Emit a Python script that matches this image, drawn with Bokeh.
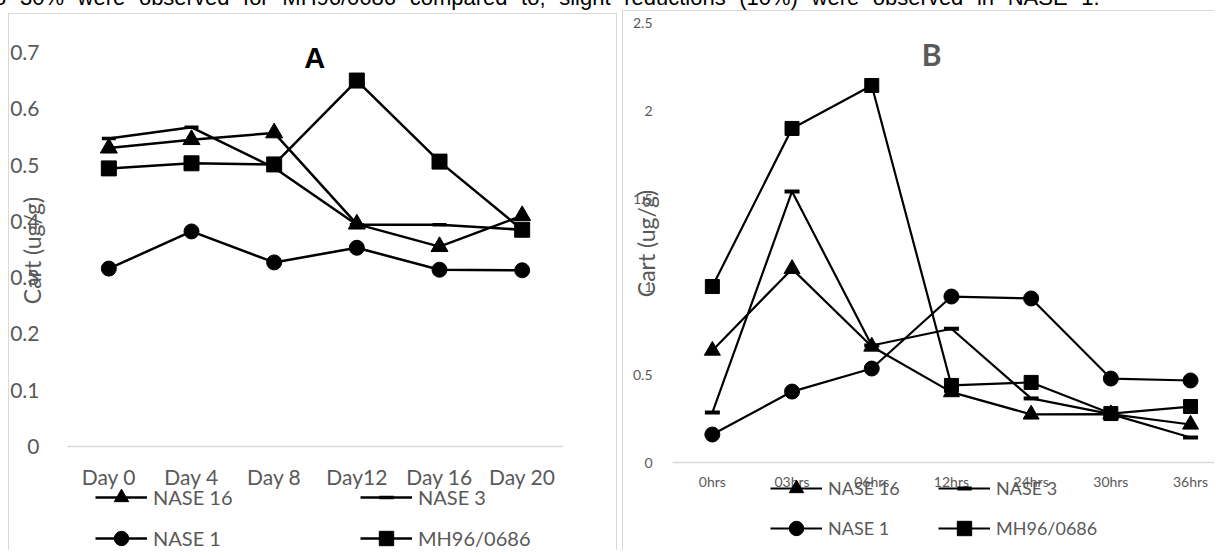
import math
from bokeh.plotting import figure
from bokeh.models import FixedTicker, Range1d, Legend, LegendItem, Label, Div
from bokeh.layouts import column, row
from bokeh.embed import file_html
from bokeh.resources import INLINE

# ---------------- data ----------------
intro_text = "to 30% were observed for MH96/0686 compared to; slight reductions (10%) were observed in NASE 1."

days = ["Day 0", "Day 4", "Day 8", "Day12", "Day 16", "Day 20"]
nase16_A = [0.530, 0.545, 0.557, 0.395, 0.355, 0.410]
nase3_A = [0.547, 0.567, 0.495, 0.394, 0.394, 0.385]
nase1_A = [0.316, 0.382, 0.327, 0.353, 0.314, 0.313]
mh_A = [0.494, 0.503, 0.501, 0.650, 0.506, 0.385]
yA_ticks = [0, 0.1, 0.2, 0.3, 0.4, 0.5, 0.6, 0.7]
yA_labels = ["0", "0.1", "0.2", "0.3", "0.4", "0.5", "0.6", "0.7"]

hours = ["0hrs", "03hrs", "06hrs", "12hrs", "24hrs", "30hrs", "36hrs"]
nase16_B = [0.636, 1.100, 0.659, 0.400, 0.273, 0.275, 0.216]
nase3_B = [0.284, 1.540, 0.665, 0.760, 0.364, 0.275, 0.142]
nase1_B = [0.159, 0.403, 0.534, 0.943, 0.932, 0.477, 0.466]
mh_B = [1.000, 1.898, 2.142, 0.438, 0.455, 0.278, 0.318]
yB_ticks = [0, 0.5, 1, 1.5, 2, 2.5]
yB_labels = ["0", "0.5", "1", "1.5", "2", "2.5"]

series_names = ["NASE 16", "NASE 3", "NASE 1", "MH96/0686"]
markers = ["triangle", "dash", "circle", "square"]
y_title = "Cart (ug/g)"

GRAY = "#595959"
FONT = "Lato"


def style_axes(p, cats, y_ticks, y_labels, tick_size, x_standoff, y_standoff, base_end):
    p.grid.visible = False
    x0 = -0.5
    # light baseline at y = 0 under the categories
    p.segment(x0=[x0], x1=[base_end], y0=[0], y1=[0], line_color="#d9d9d9", line_width=1.5)
    p.xaxis.ticker = FixedTicker(ticks=list(range(len(cats))))
    p.xaxis.major_label_overrides = {i: c for i, c in enumerate(cats)}
    p.xaxis.fixed_location = 0
    p.yaxis.fixed_location = x0
    p.yaxis.ticker = FixedTicker(ticks=y_ticks)
    p.yaxis.major_label_overrides = {t: l for t, l in zip(y_ticks, y_labels)}
    for ax in (p.xaxis, p.yaxis):
        ax.major_tick_line_color = None
        ax.minor_tick_line_color = None
        ax.axis_line_color = None
        ax.major_label_text_font = FONT
        ax.major_label_text_font_size = tick_size
        ax.major_label_text_color = GRAY
    p.xaxis.major_label_standoff = x_standoff
    p.yaxis.major_label_standoff = y_standoff


def draw_series(p, values_list, lw, sizes, dash_lw):
    out = []
    for name, vals, mk, sz in zip(series_names, values_list, markers, sizes):
        xs = list(range(len(vals)))
        l = p.line(xs, vals, line_color="black", line_width=lw)
        if mk == "dash":
            s = p.scatter(xs, vals, marker=mk, size=sz, line_color="black", line_width=dash_lw)
        else:
            s = p.scatter(xs, vals, marker=mk, size=sz, fill_color="black", line_color="black", line_width=1)
        out.append((name, l, s))
    return out


def add_legends(p, rs, loc1, loc2, spacing, font_size):
    groups = [[rs[0], rs[2]], [rs[1], rs[3]]]
    for grp, loc in zip(groups, (loc1, loc2)):
        leg = Legend(
            items=[LegendItem(label=n, renderers=[l, s]) for n, l, s in grp],
            location=loc, orientation="vertical",
            glyph_width=52, glyph_height=36, label_height=36,
            spacing=spacing, label_standoff=6, padding=0, margin=0,
            border_line_color=None, background_fill_alpha=0,
            label_text_font=FONT, label_text_font_size=font_size,
            label_text_color=GRAY,
        )
        p.add_layout(leg)


# ---------------- panel A ----------------
pxA = 496 / len(days)  # px per category
pyA = 563.0            # px per unit
pA = figure(width=609, height=540,
            x_range=Range1d(-0.5 - 59 / pxA, len(days) - 0.5),
            y_range=Range1d(-104 / pyA, 436 / pyA),
            output_backend="svg", toolbar_location=None,
            min_border_left=0, min_border_right=54, min_border_top=0, min_border_bottom=0,
            margin=(1, 0, 0, 8), outline_line_color=None,
            background_fill_alpha=0, border_fill_alpha=0,
            styles={"box-shadow": "inset 0 3px 0 0 #ffffff, inset 1px 0 0 0 #d9d9d9, "
                                  "inset -1px 0 0 0 #d9d9d9, inset 0 4px 0 0 #d9d9d9"})
style_axes(pA, days, yA_ticks, yA_labels, "21px", 11, 22, len(days) - 0.5)
rsA = draw_series(pA, [nase16_A, nase3_A, nase1_A, mh_A], 2.5, [17, 14, 15, 15], 3.5)
add_legends(pA, rsA, (87, -6), (352, -6), 5, "20px")
pA.add_layout(Label(x=2.49, y=0.69, text="A", text_font="Liberation Sans", text_font_style="bold",
                    text_font_size="29px", text_align="center", text_baseline="middle",
                    text_color="black"))
pA.add_layout(Label(x=-0.5 - 36 / pxA, y=0.348, text=y_title, angle=math.pi / 2,
                    text_font=FONT, text_font_size="23px", text_color=GRAY,
                    text_align="center", text_baseline="middle"))

# ---------------- panel B ----------------
pxB = 79.7
pyB = 176.0
xB_end = -0.5 + 542 / pxB
pB = figure(width=592, height=540,
            x_range=Range1d(-0.5 - 50 / pxB, xB_end),
            y_range=Range1d(-88 / pyB, 452 / pyB),
            output_backend="svg", toolbar_location=None,
            min_border_left=0, min_border_right=0, min_border_top=0, min_border_bottom=0,
            margin=(1, 0, 0, 5), outline_line_color=None,
            background_fill_alpha=0, border_fill_alpha=0,
            styles={"box-shadow": "inset 1px 1px 0 0 #d9d9d9"})
style_axes(pB, hours, yB_ticks, yB_labels, "14px", 4, 14, xB_end)
rsB = draw_series(pB, [nase16_B, nase3_B, nase1_B, mh_B], 2.2, [16, 15, 15, 14], 4)
add_legends(pB, rsB, (148, 4), (316, 4), 4, "18px")
pB.add_layout(Label(x=2.75, y=2.32, text="B", text_font=FONT, text_font_style="bold",
                    text_font_size="30px", text_align="center", text_baseline="middle",
                    text_color=GRAY))
pB.add_layout(Label(x=-0.5 - 27 / pxB, y=1.244, text=y_title, angle=math.pi / 2,
                    text_font=FONT, text_font_size="23px", text_color=GRAY,
                    text_align="center", text_baseline="middle"))

# ---------------- page ----------------
intro = Div(text=intro_text, width=1200, height=22, margin=(-13, 0, 0, -12),
            styles={"font-family": "Liberation Sans", "font-size": "22px", "line-height": "22px",
                    "white-space": "nowrap", "color": "black", "word-spacing": "7.5px",
                    "overflow": "visible"})

layout = column(intro, row(pA, pB))

open("out.html", "w").write(file_html(layout, INLINE))
